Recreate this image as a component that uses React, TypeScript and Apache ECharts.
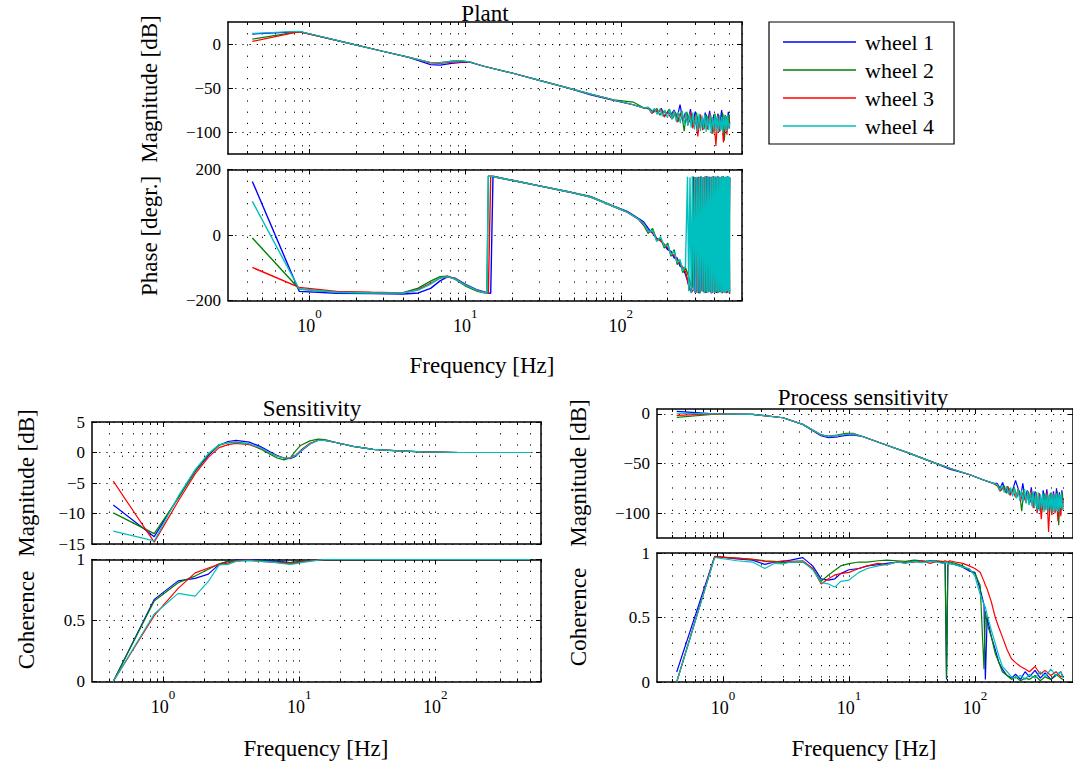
import React, { useEffect, useRef } from 'react';
import * as echarts from 'echarts';

const NAMES = ['wheel 1', 'wheel 2', 'wheel 3', 'wheel 4'];
const COLORS = ['#0000ff', '#008000', '#ff0000', '#00bfbf'];
const FONT = 'Liberation Serif';

// Frequency grids [Hz]
const F_MAG_A = [0.43, 0.86, 1.72, 3.0, 4.3, 6.0, 6.9, 8.2, 9.5, 10.8, 13, 20, 30, 45, 64, 90, 120, 140,
  150, 158, 166, 174, 182, 190, 200, 210, 220, 230, 240, 250, 260, 270, 280, 290, 300, 312, 324, 336, 348,
  360, 372, 384, 396, 408, 420, 432, 444, 456, 468, 480, 490, 500];
const F_MAG_B = [0.43, 0.86, 1.72, 3.0, 4.3, 6.0, 6.9, 8.2, 9.5, 10.8, 13, 20, 30, 45, 64, 90, 120, 140,
  154, 162, 170, 178, 186, 195, 205, 215, 225, 235, 245, 255, 265, 275, 285, 295, 306, 318, 330, 342, 354,
  366, 378, 390, 402, 414, 426, 438, 450, 462, 474, 485, 495, 500];
const F_MAG_C = [0.43, 0.86, 1.72, 3.0, 4.3, 6.0, 6.9, 8.2, 9.5, 10.8, 13, 20, 30, 45, 64, 90, 120, 140,
  150, 157, 164, 171, 178, 185, 192, 199, 206, 213, 220, 227, 234, 241, 248, 255, 262, 269, 276, 283, 290, 297,
  304, 311, 318, 325, 332, 339, 346, 353, 360, 367, 374, 381, 388, 395, 402, 409, 416, 423, 430, 437, 444, 451,
  458, 465, 472, 479, 486, 493, 500];
const F_PHASE_A = [0.43, 0.86, 1.5, 2.5, 4, 5, 6, 6.9, 7.7, 8.6, 10, 12, 13.8, 14.1, 14.6, 15.1, 15.6, 20, 30, 45, 64, 90, 110, 130,
  140, 150, 160, 170, 180, 190, 200, 210, 220, 230, 240, 250, 260,
  268, 276, 284, 292, 300, 308, 316, 324, 332, 340, 348, 356, 364, 372, 380, 388, 396, 404, 412, 420, 428, 436, 444, 452, 460, 468, 476, 484, 492, 500];
const F_PHASE_B = [0.43, 0.86, 1.5, 2.5, 4, 5, 6, 6.9, 7.7, 8.6, 10, 12, 13.8, 14.1, 14.6, 15.1, 15.6, 20, 30, 45, 64, 90, 110, 130,
  140, 150, 160, 170, 180, 190, 200, 210, 220, 230, 240, 250, 260,
  272, 280, 288, 296, 304, 312, 320, 328, 336, 344, 352, 360, 368, 376, 384, 392, 400, 408, 416, 424, 432, 440, 448, 456, 464, 472, 480, 488, 496, 500];
const F_PHASE_C = [0.43, 0.86, 1.5, 2.5, 4, 5, 6, 6.9, 7.7, 8.6, 10, 12, 13.8, 14.1, 14.6, 15.1, 15.6, 20, 30, 45, 64, 90, 110, 130,
  140, 150, 160, 170, 180, 190, 200, 210, 220, 230, 240, 250, 260,
  268, 273, 278, 283, 288, 293, 298, 303, 308, 313, 318, 323, 328, 333, 338, 343, 348, 353, 358, 363, 368, 373, 378, 383,
  388, 393, 398, 403, 408, 413, 418, 423, 428, 433, 438, 443, 448, 453, 458, 463, 468, 473, 478, 483, 488, 493, 498, 500];
const F_SENS = [0.43, 0.86, 1.29, 1.72, 2.15, 2.58, 3.0, 3.44, 4.3, 5.16, 6.02, 6.88, 7.74, 8.6, 9.46, 10.3, 12, 13.8, 15.5, 19, 25, 35, 50, 80, 150, 300, 500];
const F_PCOH = [0.43, 0.86, 1.29, 1.72, 2.15, 2.58, 3.0, 3.44, 4.3, 5.16, 6.02, 6.88, 7.74, 8.6, 10, 12, 14, 17, 20, 24, 28, 33, 38, 44, 50, 55, 58, 59.5, 61, 63,
  70, 80, 90, 100, 110, 118, 121, 125, 135, 145, 155, 165, 180, 195, 210, 230, 250, 270, 300, 330, 360, 400, 440, 480, 500];

// Plant magnitude [dB]
const PLANT_MAG_1 = [11.3, 14, 1.5, -8.5, -15, -23.5, -24, -22, -21, -21, -25, -33, -41.4, -49.6, -58, -64, -69, -72.5,
  -72, -76, -75, -78, -73, -82, -77, -80, -75, -84, -69, -86, -78, -88, -74, -91, -77, -92, -81, -95, -78, -90, -76, -96, -80, -94, -79, -92, -75, -97, -81, -93, -77, -90];
const PLANT_MAG_2 = [5.6, 14, 1.5, -8.5, -15, -21, -21, -19.5, -19, -20.5, -25, -33, -41.4, -49.6, -57, -63.5, -66, -72.5,
  -74, -78, -73, -81, -76, -79, -74, -85, -78, -88, -76, -99, -77, -89, -80, -94, -78, -95, -83, -97, -80, -92, -81, -102, -79, -96, -84, -98, -78, -110, -82, -97, -80, -93];
const PLANT_MAG_3 = [3, 14, 1.5, -8.5, -15, -21.5, -22, -20.5, -20, -20.5, -25, -33, -41.4, -49.6, -57, -63.6, -69, -72.5,
  -73, -79, -75, -77, -74, -83, -78, -84, -76, -89, -79, -87, -80, -92, -77, -96, -82, -105, -80, -98, -83, -97, -79, -102, -84, -116, -80, -100, -85, -112, -81, -103, -84, -96];
const PLANT_MAG_4 = [12, 14.5, 1.5, -8.5, -15, -21, -21.5, -19.5, -19, -20.5, -25, -33, -41.4, -49.6, -57, -63.6, -69, -72.5,
  -72, -78, -73, -80, -74, -82, -75, -84,
  -75, -86, -76, -88, -77, -90, -76, -92, -78, -93, -79, -95, -78, -97,
  -80, -98, -79, -99, -81, -96, -80, -100, -82, -98, -81, -101, -83, -97, -80, -99, -82, -100, -81, -98, -83, -101, -80, -97, -82, -99, -81, -96,
  -90];

// Plant phase [deg]
const PLANT_PH_1 = [163.6, -172, -178, -179, -180, -177, -163, -140, -128, -132, -150, -168, -176, -177, -178, 180, 178, 167, 150, 133, 116, 88, 72, 50,
  40, 20, 5, -10, -15, -30, -45, -50, -70, -70, -95, -100, -120,
  -140, -165, -172, 178, -176, 175, -178, 178, -172, 176, -177, 179, -170, 177, -178, 178, -175, 176, -177, 179, -173, 177, -176, 178, -174, 175, -178, 179, -172, 176];
const PLANT_PH_2 = [-9, -165, -175, -177, -176, -162, -141, -127, -126, -135, -155, -172, -178, 180, 179, 178, 177, 167, 150, 133, 118, 87, 70, 48,
  30, 5, 20, -15, -10, -40, -25, -65, -45, -90, -80, -115, -100,
  -125, -150, -160, 178, -175, 177, -178, 179, -172, 176, -177, 178, -174, 177, -178, 179, -171, 176, -176, 178, -175, 177, -178, 179, -173, 176, -177, 178, -174, 175];
const PLANT_PH_3 = [-99, -160, -172, -175, -177, -166, -148, -132, -126, -133, -152, -170, -177, -177, 180, 179, 177, 167, 150, 133, 116, 87, 70, 48,
  32, 12, 8, -12, -18, -28, -38, -55, -62, -75, -88, -98, -112,
  -135, -160, -175, -168, 177, -176, 178, -178, 176, -174, 179, -177, 177, -172, 178, -176, 179, -175, 176, -178, 177, -173, 179, -177, 176, -175, 178, -176, 177, -179];
const PLANT_PH_4 = [102.6, -165, -175, -177, -177, -168, -150, -131, -127, -134, -152, -170, -178, 180, 179, 178, 177, 167, 150, 133, 116, 87, 70, 48,
  35, 10, 15, -20, -5, -35, -30, -60, -50, -85, -75, -110, -95,
  178, -172, 176, -178, 179, -170, 177, -176, 178, -175, 175, -177, 179, -172, 176, -178, 178, -174, 177, -176,
  179, -171, 176, -178, 178, -175, 177, -177, 179, -173, 176, -176, 178, -172, 177, -178, 179, -174, 176, -177,
  178, -175, 177, -171, 179, -176, 178, -174];

// Sensitivity magnitude [dB]
const SENS_MAG_1 = [-8.6, -13.8, -7.4, -3.1, -0.5, 1.2, 1.8, 2.0, 1.7, 1.0, 0.2, -0.5, -0.9, -1.0, -0.6, 0.2, 1.4, 2.0, 2.0, 1.6, 1.0, 0.5, 0.3, 0.1, 0, 0, 0];
const SENS_MAG_2 = [-9.9, -13.3, -7.5, -3.0, -0.3, 1.2, 1.6, 1.7, 1.4, 0.6, -0.2, -0.9, -1.2, -0.9, 0.3, 1.2, 1.9, 2.2, 2.1, 1.6, 1.0, 0.5, 0.3, 0.1, 0, 0, 0];
const SENS_MAG_3 = [-4.7, -14.7, -8.0, -3.5, -0.8, 0.8, 1.3, 1.5, 1.3, 0.7, 0.0, -0.6, -0.9, -0.9, -0.4, 0.4, 1.5, 2.0, 2.0, 1.6, 1.0, 0.5, 0.3, 0.1, 0, 0, 0];
const SENS_MAG_4 = [-12.9, -14.5, -7.2, -2.8, -0.2, 1.3, 1.6, 1.6, 1.4, 0.8, 0.0, -0.6, -0.9, -0.9, -0.5, 0.3, 1.4, 2.0, 2.0, 1.6, 1.0, 0.5, 0.3, 0.1, 0, 0, 0];

// Sensitivity coherence
const SENS_COH_1 = [0, 0.673, 0.825, 0.845, 0.88, 0.96, 0.985, 0.995, 1, 0.995, 0.99, 0.985, 0.98, 0.975, 0.98, 0.985, 0.99, 0.995, 1, 1, 1, 1, 1, 1, 1, 1, 1];
const SENS_COH_2 = [0, 0.66, 0.81, 0.864, 0.92, 0.965, 0.985, 0.99, 0.995, 0.99, 0.985, 0.98, 0.975, 0.975, 0.98, 0.985, 0.99, 0.995, 1, 1, 1, 1, 1, 1, 1, 1, 1];
const SENS_COH_3 = [0, 0.54, 0.763, 0.89, 0.93, 0.96, 0.97, 0.99, 0.995, 0.985, 0.98, 0.975, 0.97, 0.965, 0.97, 0.98, 0.99, 0.995, 1, 1, 1, 1, 1, 1, 1, 1, 1];
const SENS_COH_4 = [0, 0.553, 0.722, 0.70, 0.82, 0.955, 0.96, 0.985, 0.99, 0.985, 0.98, 0.975, 0.965, 0.96, 0.965, 0.975, 0.985, 0.995, 1, 1, 1, 1, 1, 1, 1, 1, 1];

// Process sensitivity magnitude [dB]
const PS_MAG_1 = [2.6, 0, -0.5, -3.8, -10.5, -22, -24, -23, -21.5, -21, -23, -31.5, -39.5, -48, -56, -61, -67, -70,
  -70, -75, -69, -79, -73, -81, -76, -67, -75, -84, -70, -86, -77, -88, -74, -90, -78, -92, -80, -95, -77, -89, -76, -94, -80, -93, -78, -92, -75, -96, -79, -93, -77, -90];
const PS_MAG_2 = [-3.4, -0.3, -0.5, -3.8, -10.5, -21, -22.5, -21, -19.5, -19.5, -23, -31.5, -39.5, -48, -55, -61, -67, -70,
  -73, -77, -72, -80, -75, -79, -74, -84, -77, -98, -76, -90, -78, -89, -80, -93, -79, -96, -82, -97, -80, -92, -81, -100, -79, -96, -83, -98, -78, -112, -82, -97, -80, -94];
const PS_MAG_3 = [-1.4, 0, -0.5, -3.8, -10.5, -21, -22.5, -21.5, -20.5, -20, -23, -31.5, -39.5, -48, -55, -61, -67, -70,
  -72, -78, -74, -77, -73, -82, -77, -84, -76, -88, -79, -87, -80, -91, -77, -95, -82, -100, -80, -106, -83, -97, -79, -119, -84, -102, -80, -100, -85, -108, -81, -103, -84, -96];
const PS_MAG_4 = [0.7, 0, -0.5, -3.8, -10.5, -21, -22.5, -21.5, -20.5, -20, -23, -31.5, -39.5, -48, -55, -61, -67, -70,
  -71, -77, -72, -79, -73, -81, -74, -83,
  -75, -85, -76, -87, -77, -89, -76, -90, -78, -92, -79, -93, -78, -95,
  -80, -97, -79, -98, -81, -95, -80, -99, -82, -97, -81, -99, -82, -96, -80, -98, -81, -99, -82, -97, -80, -98, -82, -99, -81, -95, -80, -97,
  -90];

// Process sensitivity coherence
const PS_COH_1 = [0.078, 0.974, 0.955, 0.945, 0.912, 0.93, 0.935, 0.945, 0.964, 0.90, 0.80, 0.79, 0.80, 0.84, 0.87, 0.88, 0.90, 0.91, 0.92, 0.93, 0.925, 0.935, 0.93, 0.94, 0.935, 0.93, 0.92, 0.02, 0.91, 0.92,
  0.91, 0.89, 0.86, 0.85, 0.72, 0.60, 0.02, 0.5, 0.35, 0.25, 0.15, 0.10, 0.05, 0.03, 0.06, 0.02, 0.08, 0.04, 0.09, 0.03, 0.07, 0.02, 0.05, 0.08, 0.04];
const PS_COH_2 = [0, 0.97, 0.96, 0.95, 0.94, 0.935, 0.925, 0.93, 0.93, 0.88, 0.78, 0.83, 0.866, 0.90, 0.918, 0.93, 0.93, 0.94, 0.945, 0.94, 0.935, 0.945, 0.94, 0.935, 0.94, 0.935, 0.93, 0.03, 0.92, 0.93,
  0.92, 0.90, 0.87, 0.84, 0.75, 0.10, 0.55, 0.45, 0.35, 0.22, 0.15, 0.08, 0.05, 0.02, 0.04, 0.01, 0.03, 0.02, 0.05, 0.01, 0.04, 0.02, 0.06, 0.03, 0.02];
const PS_COH_3 = [0, 0.972, 0.96, 0.95, 0.935, 0.93, 0.94, 0.935, 0.94, 0.88, 0.76, 0.80, 0.83, 0.84, 0.85, 0.88, 0.90, 0.92, 0.91, 0.93, 0.925, 0.93, 0.94, 0.92, 0.935, 0.93, 0.94, 0.935, 0.93, 0.94,
  0.93, 0.92, 0.90, 0.88, 0.85, 0.78, 0.75, 0.72, 0.62, 0.50, 0.42, 0.35, 0.25, 0.18, 0.15, 0.12, 0.10, 0.08, 0.12, 0.06, 0.09, 0.05, 0.08, 0.04, 0.05];
const PS_COH_4 = [0, 0.965, 0.94, 0.93, 0.88, 0.92, 0.915, 0.93, 0.935, 0.87, 0.77, 0.76, 0.736, 0.78, 0.79, 0.85, 0.88, 0.90, 0.91, 0.93, 0.92, 0.935, 0.925, 0.935, 0.93, 0.92, 0.925, 0.93, 0.91, 0.92,
  0.91, 0.89, 0.88, 0.82, 0.68, 0.60, 0.58, 0.52, 0.40, 0.30, 0.20, 0.12, 0.08, 0.04, 0.03, 0.05, 0.02, 0.06, 0.03, 0.08, 0.04, 0.10, 0.05, 0.08, 0.03];

const X_MAJOR = [1, 10, 100];
const X_MINOR = [0.4, 0.5, 0.6, 0.7, 0.8, 0.9, 1, 2, 3, 4, 5, 6, 7, 8, 9, 10, 20, 30, 40, 50, 60, 70, 80, 90, 100, 200, 300, 400, 500, 600];

const PANELS = [
  { left: 228, top: 22, width: 514, height: 132, ymin: -125, ymax: 25, yticks: [-100, -50, 0], xlab: false, lw: 1.2, pad: [0, 0, 0, 0],
    f: [F_MAG_A, F_MAG_B, F_MAG_A, F_MAG_C], v: [PLANT_MAG_1, PLANT_MAG_2, PLANT_MAG_3, PLANT_MAG_4] },
  { left: 228, top: 169.5, width: 514, height: 131, ymin: -200, ymax: 200, yticks: [-200, 0, 200], xlab: true, lw: 1.4, pad: [0, 0, 0, 0],
    f: [F_PHASE_A, F_PHASE_B, F_PHASE_A, F_PHASE_C], v: [PLANT_PH_1, PLANT_PH_2, PLANT_PH_3, PLANT_PH_4] },
  { left: 92, top: 422, width: 449, height: 122, ymin: -15, ymax: 5, yticks: [-15, -10, -5, 0, 5], xlab: false, lw: 1.2, pad: [0, 0, 4, 0],
    f: [F_SENS, F_SENS, F_SENS, F_SENS], v: [SENS_MAG_1, SENS_MAG_2, SENS_MAG_3, SENS_MAG_4] },
  { left: 92, top: 559.5, width: 449, height: 122, ymin: 0, ymax: 1, yticks: [0, 0.5, 1], xlab: true, lw: 1.2, pad: [4, 0, 0, 0],
    f: [F_SENS, F_SENS, F_SENS, F_SENS], v: [SENS_COH_1, SENS_COH_2, SENS_COH_3, SENS_COH_4] },
  { left: 657, top: 409, width: 427, height: 129, ymin: -125, ymax: 5, yticks: [-100, -50, 0], xlab: false, lw: 1.2, pad: [0, 0, 0, 0],
    f: [F_MAG_A, F_MAG_B, F_MAG_A, F_MAG_C], v: [PS_MAG_1, PS_MAG_2, PS_MAG_3, PS_MAG_4] },
  { left: 657, top: 553, width: 427, height: 129, ymin: 0, ymax: 1, yticks: [0, 0.5, 1], xlab: true, lw: 1.2, pad: [0, 0, 0, 0],
    f: [F_PCOH, F_PCOH, F_PCOH, F_PCOH], v: [PS_COH_1, PS_COH_2, PS_COH_3, PS_COH_4] },
];

const TEXTS = [
  { text: 'Plant', x: 485, y: 13, rot: 0 },
  { text: 'Sensitivity', x: 312, y: 408, rot: 0 },
  { text: 'Process sensitivity', x: 863, y: 397, rot: 0 },
  { text: 'Magnitude [dB]', x: 149, y: 89, rot: 1 },
  { text: 'Phase [degr.]', x: 149, y: 236, rot: 1 },
  { text: 'Frequency [Hz]', x: 482, y: 365, rot: 0 },
  { text: 'Magnitude [dB]', x: 26, y: 483, rot: 1 },
  { text: 'Coherence', x: 26, y: 620, rot: 1 },
  { text: 'Frequency [Hz]', x: 316, y: 748, rot: 0 },
  { text: 'Magnitude [dB]', x: 578, y: 473, rot: 1 },
  { text: 'Coherence', x: 578, y: 617, rot: 1 },
  { text: 'Frequency [Hz]', x: 864, y: 748, rot: 0 },
];

function buildOption() {
  const grid: any[] = [];
  const xAxis: any[] = [];
  const yAxis: any[] = [];
  const series: any[] = [];
  const black = '#000';
  const tickStyle = { color: black, width: 1 };
  PANELS.forEach((p, i) => {
    grid.push({ left: p.left, top: p.top, width: p.width, height: p.height, containLabel: false });
    const base = { type: 'log', logBase: 10, min: 0.3, max: 600, gridIndex: i, silent: true };
    const frame = { show: true, onZero: false, lineStyle: { color: black, width: 1.5 } };
    xAxis.push({
      ...base, position: 'bottom', axisLine: frame,
      axisTick: { show: true, inside: true, length: 5, customValues: X_MAJOR, lineStyle: tickStyle },
      axisLabel: {
        show: p.xlab, customValues: X_MAJOR, margin: 11.5,
        formatter: (v: number) => `{b|10}{s|${Math.round(Math.log10(v))}}`,
        rich: {
          b: { fontFamily: FONT, fontSize: 18, lineHeight: 18, color: black, padding: [10, 0, 0, 0] },
          s: { fontFamily: FONT, fontSize: 13, lineHeight: 13, color: black, padding: [0, 0, 15, 0] },
        },
      },
      splitLine: { show: false }, minorTick: { show: false },
    });
    xAxis.push({
      ...base, position: 'bottom', axisLine: { show: false, onZero: false },
      axisTick: { show: true, inside: true, length: 3, customValues: X_MINOR, lineStyle: tickStyle },
      axisLabel: { show: false },
      splitLine: { show: true, lineStyle: { color: black, width: 1, type: [1.2, 10] } },
    });
    xAxis.push({
      ...base, position: 'top', axisLine: frame,
      axisTick: { show: true, inside: true, length: 5, customValues: X_MAJOR, lineStyle: tickStyle },
      axisLabel: { show: false }, splitLine: { show: false },
    });
    xAxis.push({
      ...base, position: 'top', axisLine: { show: false, onZero: false },
      axisTick: { show: true, inside: true, length: 3, customValues: X_MINOR, lineStyle: tickStyle },
      axisLabel: { show: false }, splitLine: { show: false },
    });
    const ybase = { type: 'value', min: p.ymin, max: p.ymax, gridIndex: i, silent: true };
    yAxis.push({
      ...ybase, position: 'left', axisLine: frame,
      axisTick: { show: true, inside: true, length: 5, customValues: p.yticks, lineStyle: tickStyle },
      axisLabel: {
        show: true, customValues: p.yticks, margin: 7, fontFamily: FONT, fontSize: 17, lineHeight: 13, color: black,
        padding: p.pad,
        formatter: (v: number) => (v < 0 ? '\u2212' + Math.abs(v) : String(v)),
      },
      splitLine: { show: true, lineStyle: { color: black, width: 1, type: [1.2, 6] } },
    });
    yAxis.push({
      ...ybase, position: 'right', axisLine: frame,
      axisTick: { show: true, inside: true, length: 5, customValues: p.yticks, lineStyle: tickStyle },
      axisLabel: { show: false }, splitLine: { show: false },
    });
    p.v.forEach((vals, k) => {
      const fs = p.f[k];
      series.push({
        type: 'line', name: NAMES[k], xAxisIndex: 4 * i, yAxisIndex: 2 * i,
        data: fs.map((f, j) => [f, vals[j]]),
        showSymbol: false, symbol: 'none', silent: true, clip: true,
        lineStyle: { width: p.lw, color: COLORS[k] }, itemStyle: { color: COLORS[k] },
      });
    });
  });
  const graphic = TEXTS.map((t) => ({
    type: 'text', x: t.x, y: t.y, rotation: t.rot ? Math.PI / 2 : 0, silent: true,
    style: {
      text: t.text, font: '23px "Liberation Serif", serif', fontFamily: FONT, fontSize: 23,
      fill: black, align: 'center', verticalAlign: 'middle',
    },
  }));
  return {
    animation: false,
    backgroundColor: '#fff',
    textStyle: { fontFamily: FONT },
    grid, xAxis, yAxis, series, graphic,
    legend: {
      data: NAMES, orient: 'vertical', left: 769, top: 22, icon: 'rect', itemWidth: 73, itemHeight: 1.5, itemGap: 0,
      padding: [6, 20, 4, 14], borderColor: black, borderWidth: 1.2, backgroundColor: '#fff', selectedMode: false,
      textStyle: { fontFamily: FONT, fontSize: 22, color: black, lineHeight: 28, padding: [0, 0, 0, 4] },
    },
  };
}

export default function App() {
  const ref = useRef<HTMLDivElement>(null);
  useEffect(() => {
    if (!ref.current) return;
    const chart = echarts.init(ref.current, null, { renderer: 'svg' });
    chart.setOption(buildOption() as any);
    return () => chart.dispose();
  }, []);
  return <div ref={ref} style={{ position: 'absolute', left: 0, top: 0, width: 1073, height: 766 }} />;
}
